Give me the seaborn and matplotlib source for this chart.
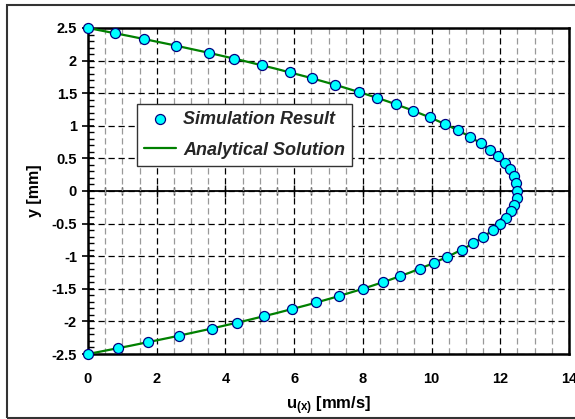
import matplotlib
matplotlib.use("Agg")
import matplotlib.pyplot as plt
import seaborn as sns
from matplotlib.ticker import MultipleLocator, FixedLocator
from matplotlib.patches import Rectangle
from matplotlib.font_manager import FontProperties

# ---------------- data ----------------
sim_y = [2.5, 2.42, 2.33, 2.23, 2.12, 2.03, 1.93, 1.82, 1.73, 1.63, 1.52, 1.43,
         1.33, 1.23, 1.13, 1.03, 0.93, 0.83, 0.73, 0.63, 0.53, 0.43, 0.33, 0.23,
         0.13, 0.0,
         -0.11, -0.21, -0.31, -0.41, -0.51, -0.60, -0.71, -0.80, -0.90, -1.01,
         -1.10, -1.19, -1.31, -1.40, -1.50, -1.61, -1.71, -1.81, -1.92, -2.02,
         -2.11, -2.22, -2.32, -2.41, -2.5]
sim_u = [0.0, 0.79, 1.64, 2.55, 3.51, 4.26, 5.05, 5.88, 6.51, 7.19, 7.88, 8.41,
         8.96, 9.47, 9.95, 10.38, 10.77, 11.12, 11.43, 11.71, 11.94, 12.13, 12.28,
         12.39, 12.47, 12.5,
         12.48, 12.41, 12.31, 12.16, 11.98, 11.78, 11.49, 11.22, 10.88, 10.46,
         10.08, 9.67, 9.07, 8.58, 8.00, 7.32, 6.65, 5.95, 5.13, 4.34,
         3.60, 2.64, 1.74, 0.88, 0.0]

ana_y = [2.5, 2.375, 2.25, 2.125, 2.0, 1.875, 1.75, 1.625, 1.5, 1.375, 1.25,
         1.125, 1.0, 0.875, 0.75, 0.625, 0.5, 0.375, 0.25, 0.125, 0.0,
         -0.125, -0.25, -0.375, -0.5, -0.625, -0.75, -0.875, -1.0, -1.125,
         -1.25, -1.375, -1.5, -1.625, -1.75, -1.875, -2.0, -2.125, -2.25,
         -2.375, -2.5]
ana_u = [0.0, 1.219, 2.375, 3.469, 4.5, 5.469, 6.375, 7.219, 8.0, 8.719, 9.375,
         9.969, 10.5, 10.969, 11.375, 11.719, 12.0, 12.219, 12.375, 12.469, 12.5,
         12.469, 12.375, 12.219, 12.0, 11.719, 11.375, 10.969, 10.5, 9.969,
         9.375, 8.719, 8.0, 7.219, 6.375, 5.469, 4.5, 3.469, 2.375,
         1.219, 0.0]

x_ticks = [0, 2, 4, 6, 8, 10, 12, 14]
x_tick_labels = ["0", "2", "4", "6", "8", "10", "12", "14"]
y_ticks = [2.5, 2.0, 1.5, 1.0, 0.5, 0.0, -0.5, -1.0, -1.5, -2.0, -2.5]
y_tick_labels = ["2.5", "2", "1.5", "1", "0.5", "0", "-0.5", "-1", "-1.5", "-2", "-2.5"]

sim_label = "Simulation Result"
ana_label = "Analytical Solution"
x_label = r"$\mathbf{u_{(x)}}$ [mm/s]"
y_label = "y [mm]"

# ---------------- style ----------------
sns.set_theme(style="white")
plt.rcParams["font.family"] = ["Liberation Sans", "DejaVu Sans"]
plt.rcParams["axes.unicode_minus"] = False
plt.rcParams["mathtext.fontset"] = "custom"
plt.rcParams["mathtext.bf"] = "Liberation Sans:bold"
plt.rcParams["mathtext.rm"] = "Liberation Sans"

W, H = 575, 419
fig = plt.figure(figsize=(W / 100, H / 100), dpi=100)
fig.patch.set_facecolor("white")
L, R, T, B = 88, 569, 28, 354
ax = fig.add_axes([L / W, 1 - B / H, (R - L) / W, (B - T) / H])
ax.set_facecolor("white")

# outer chart border
fig.patches.append(Rectangle((7 / W, 1 - 418 / H), (590 - 7) / W, (418 - 5) / H,
                             transform=fig.transFigure, fill=False,
                             ec="#333333", lw=1.5))

# ---------------- marks ----------------
sns.lineplot(x=ana_u, y=ana_y, sort=False, estimator=None, color="#008000",
             lw=1.6, ax=ax, label=ana_label, zorder=3)
sns.scatterplot(x=sim_u, y=sim_y, s=52, color="#00FFFF", edgecolor="#000080",
                linewidth=0.9, ax=ax, label=sim_label, zorder=4, clip_on=False)

# ---------------- axes ----------------
ax.set_xlim(0, 14)
ax.set_ylim(-2.5, 2.5)
ax.xaxis.set_major_locator(FixedLocator(x_ticks))
ax.xaxis.set_minor_locator(MultipleLocator(0.5))
ax.yaxis.set_major_locator(FixedLocator(y_ticks))
ax.yaxis.set_minor_locator(MultipleLocator(0.1))
ax.set_xticklabels(x_tick_labels)
ax.set_yticklabels(y_tick_labels)

ax.set_axisbelow(True)
dash = (0, (5, 3))
ax.xaxis.grid(True, which="major", color="black", linestyle=dash, lw=0.9)
ax.xaxis.grid(True, which="minor", color="#999999", linestyle=dash, lw=0.9)
ax.yaxis.grid(True, which="major", color="black", linestyle=dash, lw=0.9)
ax.yaxis.grid(False, which="minor")

for s in ax.spines.values():
    s.set_visible(True)
    s.set_color("black")
    s.set_linewidth(1.8)

ax.tick_params(axis="x", which="both", bottom=True, length=0, pad=13,
               labelsize=10.5, labelcolor="black")
ax.tick_params(axis="y", which="major", left=True, direction="inout", length=8,
               width=1.2, color="black", pad=4, labelsize=10.5, labelcolor="black")
ax.tick_params(axis="y", which="minor", left=True, direction="in", length=4,
               width=1.0, color="black")
for lab in ax.get_xticklabels() + ax.get_yticklabels():
    lab.set_fontweight("bold")

# zero line with crossing tick marks
sec = ax.secondary_xaxis(0.5)
sec.set_xticks(x_ticks)
sec.xaxis.set_minor_locator(MultipleLocator(0.5))
sec.tick_params(which="both", top=True, bottom=False, labeltop=False,
                labelbottom=False, direction="inout", color="black", width=1.0)
sec.tick_params(which="major", length=8)
sec.tick_params(which="minor", length=6)
for s in sec.spines.values():
    s.set_color("black")
    s.set_linewidth(1.3)

ax.set_xlabel(x_label, fontsize=12, fontweight="bold", labelpad=6, color="black")
ax.set_ylabel(y_label, fontsize=11.5, fontweight="bold", labelpad=7, color="black")

# ---------------- legend ----------------
handles, labels = ax.get_legend_handles_labels()
order = [labels.index(sim_label), labels.index(ana_label)]
leg = ax.legend([handles[i] for i in order], [labels[i] for i in order],
                loc="upper left", bbox_to_anchor=((137 - L) / (R - L), (B - 104) / (B - T)),
                borderaxespad=0, frameon=True, fancybox=False, framealpha=1,
                edgecolor="#333333",
                prop=FontProperties(family="Liberation Sans", weight="bold",
                                    style="italic", size=13),
                handlelength=1.75, handletextpad=0.4, borderpad=0.4,
                labelspacing=0.75, markerscale=1.0)
leg.get_frame().set_linewidth(1.0)

fig.savefig("out.png", dpi=100, facecolor="white")
